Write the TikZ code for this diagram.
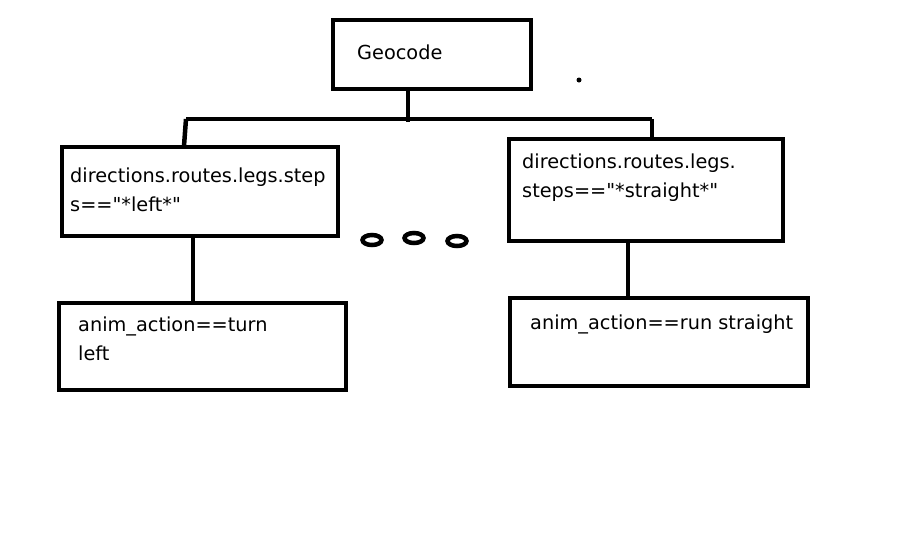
\documentclass[tikz,border=0pt]{standalone}
\usepackage{fontspec}
\newfontfamily\lblfont{DejaVu Sans}
\usetikzlibrary{shapes.geometric}
\begin{document}
\begin{tikzpicture}[x=1pt,y=-1pt,
  box/.style={draw,line width=4.5pt,inner sep=0pt},
  wire/.style={line width=4.5pt},
  lbl/.style={anchor=west,inner sep=0pt,font=\lblfont\fontsize{19.3}{29}\selectfont,align=left},
  ring/.style={draw,line width=4.5pt,ellipse,minimum width=19pt,minimum height=10pt,inner sep=0pt}]
\useasboundingbox (0,0) rectangle (900,539);
\fill[white] (0,0) rectangle (900,539);
% boxes
\node[box,minimum width=198pt,minimum height=69pt] (geo) at (432,54.5) {};
\node[box,minimum width=276pt,minimum height=89pt] (b1) at (200,191.5) {};
\node[box,minimum width=274pt,minimum height=102pt] (b2) at (646,190) {};
\node[box,minimum width=287pt,minimum height=87pt] (b3) at (202.5,346.5) {};
\node[box,minimum width=298pt,minimum height=88pt] (b4) at (659,342) {};
% texts
\node[lbl] (tgeo) at (357,52) {Geocode};
\node[lbl] (t1) at (70,190) {directions.routes.legs.step\\s=="*left*"};
\node[lbl] (t2) at (522,178) {directions.routes.legs.\\steps=="*straight*"};
\node[lbl] (t3) at (78,339) {anim\_action==turn\\left};
\node[lbl] (t4) at (530,324) {anim\_action==run straight};
% wiring
\coordinate (bus) at (408,119);
\coordinate (busL) at (186,119);
\coordinate (busR) at (652,119);
\draw[wire] (geo.south -| bus) -- (bus) -- ++(0,3);
\draw[wire] (busL) -- (busR);
\draw[wire] (busL) -- (184,146) coordinate (b1top);
\draw[wire] (busR) -- (busR |- b2.north);
\draw[wire] (193,236) -- (193,303);
\draw[wire] (628,241) -- (628,298);
% dots
\node[ring] (r1) at (372,240) {};
\node[ring] (r2) at (414,238) {};
\node[ring] (r3) at (457,241) {};
\fill (579,80) circle (2.5pt);
\end{tikzpicture}
\end{document}
